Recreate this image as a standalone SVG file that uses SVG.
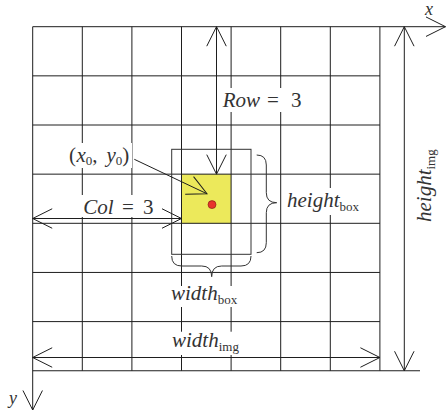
<svg xmlns="http://www.w3.org/2000/svg" width="446" height="415" viewBox="0 0 446 415">
<defs>
<style>
.g{stroke:#1e1e1e;stroke-width:1;fill:none}
.c{stroke:#1e1e1e;stroke-width:1;fill:none}
.t{font-family:'Liberation Serif','DejaVu Serif',serif;font-style:italic;font-size:21px;fill:#333}
.r{font-style:normal}
.sub{font-style:normal;font-size:13px}
.bg{fill:#fff}
</style>
<marker id="ah" markerUnits="userSpaceOnUse" viewBox="-22 -12 24 24" markerWidth="24" markerHeight="24" refX="0" refY="0" orient="auto-start-reverse" overflow="visible">
<path d="M-19.5,-9.75 L0,0 L-19.5,9.75" fill="none" stroke="#1e1e1e" stroke-width="1"/>
</marker>
</defs>
<rect width="446" height="415" fill="#fff"/>

<g id="cell"><rect x="181.5" y="174.15" width="49.6" height="49.15" fill="#ece95b"/></g>

<g id="grid" class="g">
<line x1="32.7" y1="75.85" x2="379.9" y2="75.85"/>
<line x1="32.7" y1="125" x2="379.9" y2="125"/>
<line x1="32.7" y1="174.15" x2="379.9" y2="174.15"/>
<line x1="32.7" y1="223.3" x2="379.9" y2="223.3"/>
<line x1="32.7" y1="272.45" x2="379.9" y2="272.45"/>
<line x1="32.7" y1="321.6" x2="379.9" y2="321.6"/>
<line x1="32.7" y1="370.75" x2="420" y2="370.75"/>
<line x1="82.3" y1="26.7" x2="82.3" y2="370.75"/>
<line x1="131.9" y1="26.7" x2="131.9" y2="370.75"/>
<line x1="181.5" y1="26.7" x2="181.5" y2="370.75"/>
<line x1="231.1" y1="26.7" x2="231.1" y2="370.75"/>
<line x1="280.7" y1="26.7" x2="280.7" y2="370.75"/>
<line x1="330.3" y1="26.7" x2="330.3" y2="370.75"/>
<line x1="379.9" y1="26.7" x2="379.9" y2="370.75"/>
</g>

<g id="bbox" class="g" style="stroke:#333">
<rect x="171.7" y="149.3" width="79.3" height="105"/>
<path d="M256.7,155 Q266.3,155 266.3,165 L266.3,192.7 Q266.3,202.7 276.7,202.7 Q266.3,202.7 266.3,212.7 L266.3,242.7 Q266.3,252.7 256.7,252.7"/>
<path d="M171.7,256 Q171.7,266 181.7,266 L201.7,266 Q211.7,266 211.7,276.7 Q211.7,266 221.7,266 L241,266 Q251,266 251,256"/>
</g>

<g id="center"><circle cx="212" cy="204.6" r="4" fill="#e8342c" stroke="#7a1a10" stroke-width="0.6"/></g>

<g id="label-row">
<rect class="bg" x="220" y="88" width="86" height="24"/>
<text class="t" y="106.7"><tspan x="222.7">Row</tspan><tspan class="r" x="267">=</tspan><tspan class="r" x="291">3</tspan></text>
</g>
<g id="label-col">
<rect class="bg" x="80" y="195" width="77" height="22"/>
<text class="t" y="214.3"><tspan x="83.3">Col</tspan><tspan class="r" x="122">=</tspan><tspan class="r" x="143">3</tspan></text>
</g>
<g id="label-origin">
<rect class="bg" x="67" y="143" width="65" height="25"/>
<text class="t" y="162"><tspan class="r" x="69">(</tspan><tspan x="76.5">x</tspan><tspan class="sub" dy="3">0</tspan><tspan class="r" dy="-3">,</tspan><tspan x="106.5">y</tspan><tspan class="sub" dy="3">0</tspan><tspan class="r" dy="-3">)</tspan></text>
</g>
<g id="label-height-box">
<rect class="bg" x="284" y="188" width="80" height="27"/>
<text class="t" x="287" y="206.7">height<tspan class="sub" dy="4">box</tspan></text>
</g>
<g id="label-width-box">
<rect class="bg" x="169" y="286" width="72" height="21"/>
<text class="t" x="171" y="300">width<tspan class="sub" dy="4">box</tspan></text>
</g>
<g id="label-width-img">
<rect class="bg" x="169" y="331.7" width="74" height="23.3"/>
<text class="t" x="172" y="346.7">width<tspan class="sub" dy="4">img</tspan></text>
</g>
<g id="label-height-img">
<text class="t" transform="translate(431,222) rotate(-90)">height<tspan class="sub" dy="4">img</tspan></text>
</g>
<g id="label-x"><text class="t" style="font-size:18px" x="425" y="15">x</text></g>
<g id="label-y"><text class="t" style="font-size:18px" x="9" y="404">y</text></g>

<g id="connectors" class="c">
<line x1="32.7" y1="26.7" x2="445.5" y2="26.7" marker-end="url(#ah)"/>
<line x1="32.7" y1="26.7" x2="32.7" y2="410" marker-end="url(#ah)"/>
<line x1="216.5" y1="26.7" x2="216.5" y2="174.15" marker-start="url(#ah)" marker-end="url(#ah)"/>
<line x1="32.7" y1="218.5" x2="181.5" y2="218.5" marker-start="url(#ah)" marker-end="url(#ah)"/>
<line x1="32.7" y1="357.5" x2="379.9" y2="357.5" marker-start="url(#ah)" marker-end="url(#ah)"/>
<line x1="404.3" y1="26.7" x2="404.3" y2="370.75" marker-start="url(#ah)" marker-end="url(#ah)"/>
<line x1="134.3" y1="159.3" x2="207" y2="193.8" marker-end="url(#ah)"/>
</g>
</svg>
